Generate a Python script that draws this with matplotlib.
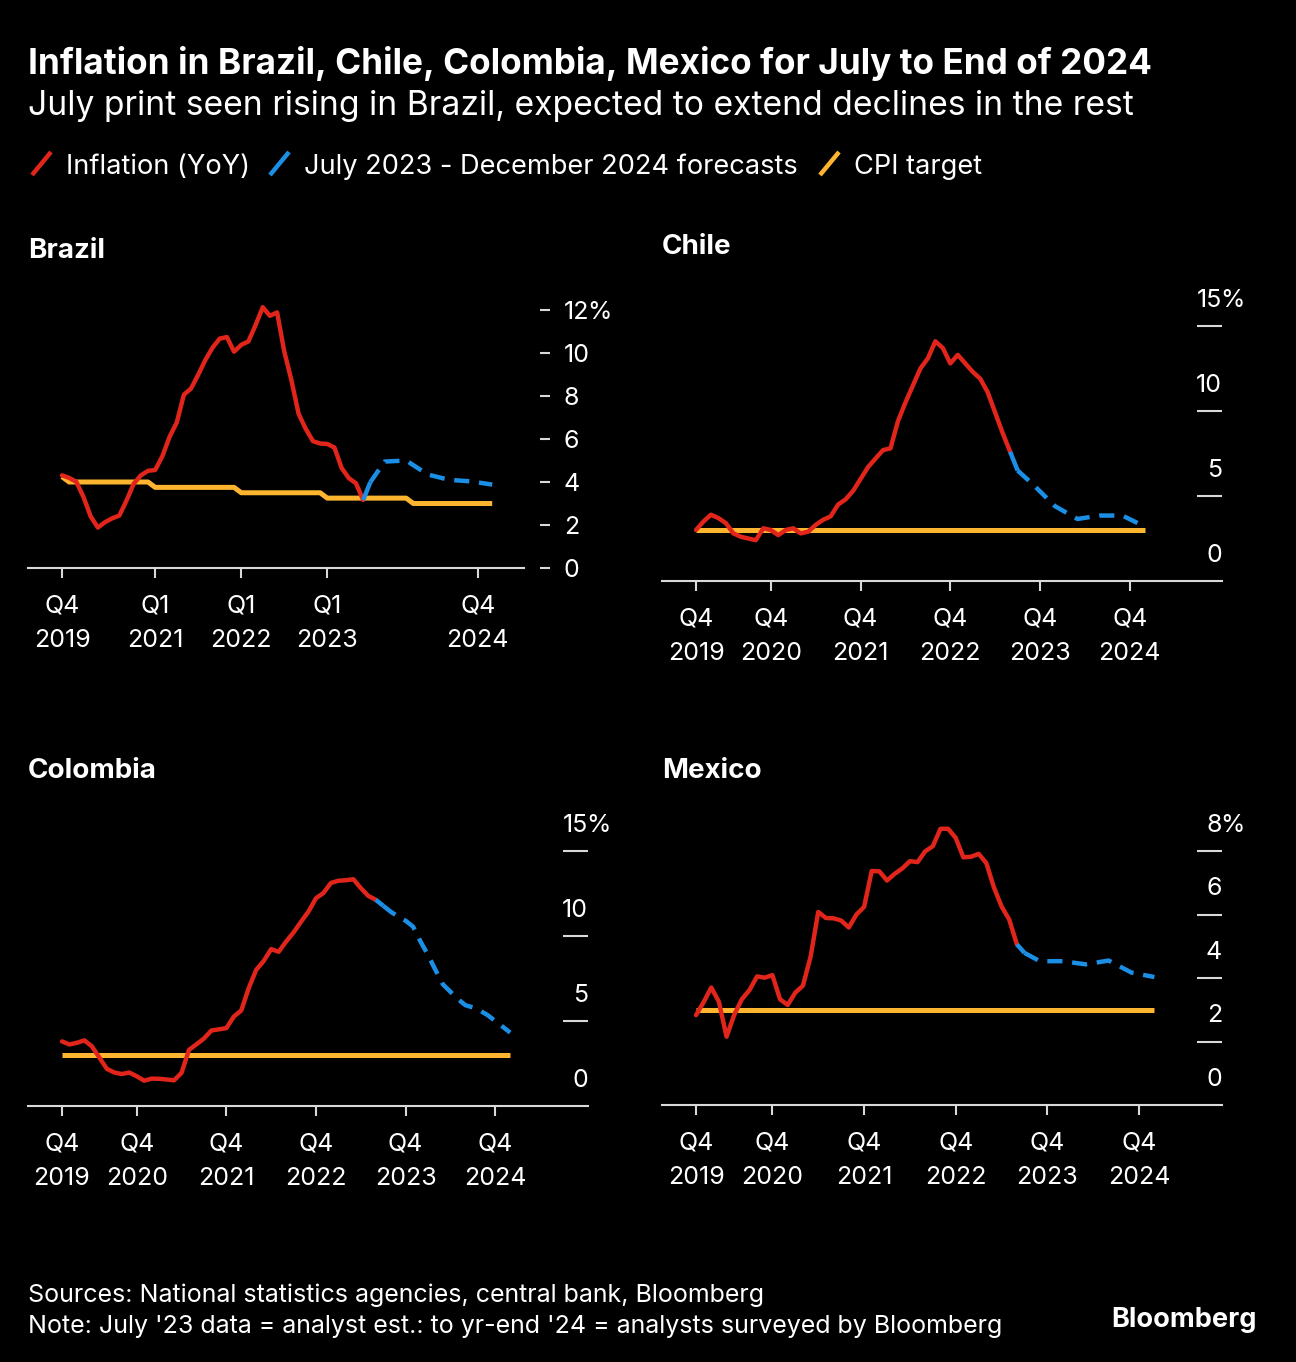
import matplotlib.pyplot as plt
from matplotlib.lines import Line2D
import numpy as np

OUT = "out.png"
W, H = 1296, 1362

BG = "black"
RED = "#e1251b"
BLUE = "#1b8fe6"
YELLOW = "#fdb42e"
AXIS = "#d9d9d9"

# month index: 0 = Dec 2019 ... 60 = Dec 2024
ACTUAL_MONTHS = list(range(43))  # Dec 2019 .. Jun 2023

BRAZIL_CPI = [4.31, 4.19, 4.01, 3.30, 2.40, 1.88, 2.13, 2.31, 2.44, 3.14, 3.92, 4.31, 4.52,
              4.56, 5.20, 6.10, 6.76, 8.06, 8.35, 8.99, 9.68, 10.25, 10.67, 10.74, 10.06,
              10.38, 10.54, 11.30, 12.13, 11.73, 11.89, 10.07, 8.73, 7.17, 6.47, 5.90, 5.79,
              5.77, 5.60, 4.65, 4.18, 3.94, 3.16]
BRAZIL_FC_MONTHS = [42, 43, 45, 48, 51, 54, 57, 60]
BRAZIL_FC = [3.16, 3.99, 4.95, 5.00, 4.35, 4.10, 4.03, 3.88]
BRAZIL_TARGET_BY_YEAR = [4.25, 4.0, 3.75, 3.5, 3.25, 3.0]   # 2019 .. 2024
TARGET_MONTHS_PER_YEAR = [1, 12, 12, 12, 12, 12]

CHILE_CPI = [3.0, 3.5, 3.9, 3.7, 3.4, 2.8, 2.6, 2.5, 2.4, 3.1, 3.0, 2.7, 3.0,
             3.1, 2.8, 2.9, 3.3, 3.6, 3.8, 4.5, 4.8, 5.3, 6.0, 6.7, 7.2,
             7.7, 7.8, 9.4, 10.5, 11.5, 12.5, 13.1, 14.1, 13.7, 12.8, 13.3, 12.8,
             12.3, 11.9, 11.1, 9.9, 8.7, 7.6]
CHILE_FC_MONTHS = [42, 43, 45, 48, 51, 54, 57, 60]
CHILE_FC = [7.6, 6.5, 5.7, 4.4, 3.65, 3.85, 3.85, 3.2]
CHILE_TARGET = 3.0

COLOMBIA_CPI = [3.80, 3.62, 3.72, 3.86, 3.51, 2.85, 2.19, 1.97, 1.88, 1.97, 1.75, 1.49, 1.61,
                1.60, 1.56, 1.51, 1.95, 3.30, 3.63, 3.97, 4.44, 4.51, 4.58, 5.26, 5.62,
                6.94, 8.01, 8.53, 9.23, 9.07, 9.67, 10.21, 10.84, 11.44, 12.22, 12.53, 13.12,
                13.25, 13.28, 13.34, 12.82, 12.36, 12.13]
COLOMBIA_FC_MONTHS = [42, 43, 44, 45, 46, 47, 48, 49, 50, 51, 52, 53, 54, 55, 56, 57, 58, 59, 60]
COLOMBIA_FC = [12.13, 11.78, 11.43, 11.14, 10.9, 10.55, 9.67, 8.88, 8.0, 7.15, 6.72, 6.29,
               5.93, 5.8, 5.6, 5.34, 5.0, 4.66, 4.32]
COLOMBIA_TARGET = 3.0

MEXICO_CPI = [2.83, 3.24, 3.70, 3.25, 2.15, 2.84, 3.33, 3.62, 4.05, 4.01, 4.09, 3.33, 3.15,
              3.54, 3.76, 4.67, 6.08, 5.89, 5.88, 5.81, 5.59, 6.00, 6.24, 7.37, 7.36,
              7.07, 7.28, 7.45, 7.68, 7.65, 7.99, 8.15, 8.70, 8.70, 8.41, 7.80, 7.82,
              7.91, 7.62, 6.85, 6.25, 5.84, 5.06]
MEXICO_FC_MONTHS = [42, 43, 45, 48, 51, 54, 57, 60]
MEXICO_FC = [5.06, 4.79, 4.53, 4.53, 4.43, 4.55, 4.17, 4.03]
MEXICO_TARGET = 3.0

BRAZIL_XTICKS = [0, 13, 25, 37, 58]
BRAZIL_XLABELS = ["Q4\n2019", "Q1\n2021", "Q1\n2022", "Q1\n2023", "Q4\n2024"]
BRAZIL_YTICKS = [0, 2, 4, 6, 8, 10, 12]
XTICKS = [0, 10, 22, 34, 46, 58]
XLABELS = ["Q4\n2019", "Q4\n2020", "Q4\n2021", "Q4\n2022", "Q4\n2023", "Q4\n2024"]

plt.rcParams["font.family"] = ["Inter", "Liberation Sans", "DejaVu Sans"]
fig = plt.figure(figsize=(W / 100, H / 100), dpi=100, facecolor=BG)

TICK_FS = 18


def fx(x):
    return x / W


def fy(y):
    return 1 - y / H


def make_axes(x0, x1, y_top, y_zero, m0_px, px_month, px_unit):
    ax = fig.add_axes([fx(x0), fy(y_zero), (x1 - x0) / W, (y_zero - y_top) / H])
    ax.set_facecolor(BG)
    ax.set_xlim((x0 - m0_px) / px_month, (x1 - m0_px) / px_month)
    ax.set_ylim(0, (y_zero - y_top) / px_unit)
    for s in ["top", "right", "left"]:
        ax.spines[s].set_visible(False)
    ax.spines["bottom"].set_color(AXIS)
    ax.spines["bottom"].set_linewidth(1.5)
    ax.tick_params(axis="x", direction="out", length=7.2, width=1.5, colors=AXIS,
                   labelcolor="white", labelsize=TICK_FS, pad=12)
    ax.yaxis.tick_right()
    return ax


def draw_lines(ax, cpi, fc_m, fc, target_m, target):
    ax.plot(target_m, target, color=YELLOW, lw=3.6, solid_capstyle="butt", zorder=2, clip_on=False)
    ax.plot(ACTUAL_MONTHS, cpi, color=RED, lw=3.2, solid_joinstyle="round",
            solid_capstyle="round", zorder=3, clip_on=False)
    ax.plot(fc_m[:2], fc[:2], color=BLUE, lw=3.2, solid_capstyle="butt", zorder=4, clip_on=False)
    ax.plot(fc_m[1:], fc[1:], color=BLUE, lw=3.2, ls=(0, (3.4, 2.2)), dash_capstyle="butt",
            zorder=4, clip_on=False)


def xlabels(ax, ticks, labels):
    ax.set_xticks(ticks)
    ax.set_xticklabels(labels)
    for t in ax.get_xticklabels():
        t.set_linespacing(1.65)


def add_percent(ax, label):
    ax.annotate("%", (1, 0), xycoords=label, xytext=(-1.5, 0), textcoords="offset points",
                ha="left", va="bottom", color="white", fontsize=TICK_FS)


def right_labels(ax, ticks):
    # short dashes at each gridline with the value sitting above it
    ax.set_yticks([t for t in ticks if t > 0])
    ax.tick_params(axis="y", direction="in", length=18, width=1.5, colors=AXIS, labelright=False)
    tr = ax.get_yaxis_transform()
    for t in ticks:
        lab = ax.annotate(str(t), (1, t), xycoords=tr, xytext=(0, 18.5), textcoords="offset points",
                          ha="right", va="center", color="white", fontsize=TICK_FS)
    add_percent(ax, lab)


# ---- Brazil ----
axB = make_axes(28, 550, 295, 568, 62, 7.17, 21.5)
brazil_target = np.repeat(BRAZIL_TARGET_BY_YEAR, TARGET_MONTHS_PER_YEAR)
draw_lines(axB, BRAZIL_CPI, BRAZIL_FC_MONTHS, BRAZIL_FC, range(len(brazil_target)), brazil_target)
axB.spines["bottom"].set_bounds(axB.get_xlim()[0], (524 - 62) / 7.17)
xlabels(axB, BRAZIL_XTICKS, BRAZIL_XLABELS)
axB.set_yticks(BRAZIL_YTICKS)
axB.tick_params(axis="y", direction="in", length=7.2, width=1.5, colors=AXIS, labelright=False)
trB = axB.get_yaxis_transform()
for t in BRAZIL_YTICKS:
    labB = axB.annotate(str(t), (1, t), xycoords=trB, xytext=(10, -1.8), textcoords="offset points",
                        ha="left", va="center", color="white", fontsize=TICK_FS)
add_percent(axB, labB)

# ---- Chile ----
axC = make_axes(662, 1222, 290, 581, 696, 7.48, 17.0)
draw_lines(axC, CHILE_CPI, CHILE_FC_MONTHS, CHILE_FC, [0, 60], [CHILE_TARGET] * 2)
xlabels(axC, XTICKS, XLABELS)
right_labels(axC, [0, 5, 10, 15])

# ---- Colombia ----
axO = make_axes(28, 588, 815, 1106, 62, 7.47, 17.0)
draw_lines(axO, COLOMBIA_CPI, COLOMBIA_FC_MONTHS, COLOMBIA_FC, [0, 60], [COLOMBIA_TARGET] * 2)
xlabels(axO, XTICKS, XLABELS)
right_labels(axO, [0, 5, 10, 15])

# ---- Mexico ----
axM = make_axes(662, 1222, 815, 1105, 696, 7.64, 31.75)
draw_lines(axM, MEXICO_CPI, MEXICO_FC_MONTHS, MEXICO_FC, [0, 60], [MEXICO_TARGET] * 2)
xlabels(axM, XTICKS, XLABELS)
right_labels(axM, [0, 2, 4, 6, 8])

# ---- header ----
fig.text(fx(28), fy(74), "Inflation in Brazil, Chile, Colombia, Mexico for July to End of 2024",
         color="white", fontsize=25.3, fontweight="bold", va="baseline")
fig.text(fx(28), fy(115), "July print seen rising in Brazil, expected to extend declines in the rest",
         color="white", fontsize=24.2, va="baseline")

legend_items = [(30, "Inflation (YoY)", RED), (268, "July 2023 - December 2024 forecasts", BLUE),
                (818, "CPI target", YELLOW)]
for x, label, col in legend_items:
    fig.add_artist(Line2D([fx(x + 2), fx(x + 21)], [fy(175), fy(152)], color=col, lw=3.2,
                          solid_capstyle="butt"))
    fig.text(fx(x + 36), fy(174), label, color="white", fontsize=19.6, va="baseline")

for x, y, name in [(28, 258, "Brazil"), (662, 254, "Chile"), (28, 778, "Colombia"), (662, 778, "Mexico")]:
    fig.text(fx(x), fy(y), name, color="white", fontsize=20, fontweight="bold", va="baseline")

# ---- footer ----
fig.text(fx(28), fy(1302), "Sources: National statistics agencies, central bank, Bloomberg",
         color="white", fontsize=18, va="baseline")
fig.text(fx(28), fy(1333), "Note: July '23 data = analyst est.: to yr-end '24 = analysts surveyed by Bloomberg",
         color="white", fontsize=18, va="baseline")
fig.text(fx(1257), fy(1327), "Bloomberg", color="white", fontsize=19.5, fontweight="bold",
         ha="right", va="baseline")

fig.savefig(OUT, dpi=100, facecolor=BG)
